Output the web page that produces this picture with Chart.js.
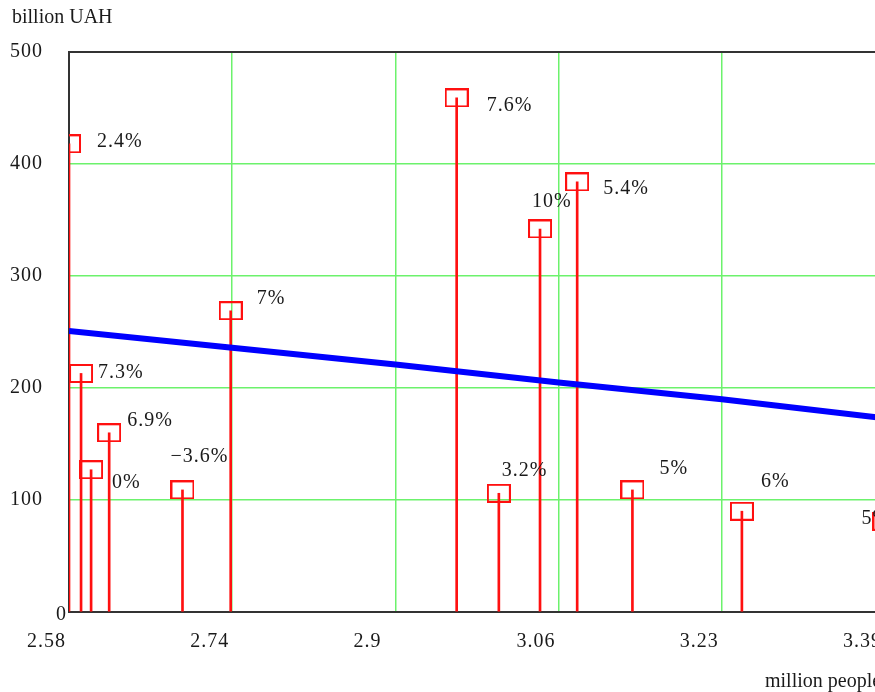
<!DOCTYPE html>
<html>
<head>
<meta charset="utf-8">
<script src="https://cdn.jsdelivr.net/npm/chart.js@4.4.1/dist/chart.umd.min.js"></script>
<style>
  html, body { margin: 0; padding: 0; background: #fff; overflow: hidden; }
  canvas { display: block; }
</style>
</head>
<body>
<canvas id="chart" width="900" height="692"></canvas>
<script>
// population (million people) vs income (billion UAH), stem labels = growth
const population = [2.58, 2.592, 2.602, 2.62, 2.693, 2.741, 2.966, 3.008, 3.049, 3.086, 3.141, 3.25, 3.392];
const income = [418, 213, 127, 160, 109, 269, 459, 106, 342, 384, 109, 90, 81];
const growth = ['2.4%', '7.3%', '0%', '6.9%', '\u22123.6%', '7%', '7.6%', '3.2%', '10%', '5.4%', '5%', '6%', '5%'];

// trend curve
const trendX = [2.58, 2.7425, 2.905, 3.0675, 3.23, 3.3925];
const trendY = [251, 236, 221, 205, 190, 173];

const xTicks = [2.58, 2.7425, 2.905, 3.0675, 3.23, 3.3925];
const xTickLabels = ['2.58', '2.74', '2.9', '3.06', '3.23', '3.39'];

// where each growth label sits relative to its marker (px)
const labelOffsets = [[28, -2], [17, -1], [21, 13], [18, -12], [-12, -33], [26, -12], [30, 8],
  [3, -23], [-8, -27], [26, 7], [27, -21], [19, -29], [-23, -3]];

const FONT = '"Liberation Serif", "Times New Roman", serif';
const GREEN = '#6cf26c';
const RED = '#ff1010';

// hollow rectangle marker
const box = document.createElement('canvas');
box.width = 24;
box.height = 19;
const bctx = box.getContext('2d');
bctx.strokeStyle = RED;
bctx.lineWidth = 2;
bctx.strokeRect(1, 1, 22, 17);

const extras = {
  id: 'extras',
  beforeDraw(chart) {
    // text in the original is spaced out a bit
    chart.ctx.letterSpacing = '1px';
  },
  afterDatasetsDraw(chart) {
    const { ctx, chartArea, scales: { x, y } } = chart;
    ctx.save();
    // top frame
    ctx.strokeStyle = '#333';
    ctx.lineWidth = 2;
    ctx.beginPath();
    ctx.moveTo(chartArea.left - 1, chartArea.top);
    ctx.lineTo(chartArea.right, chartArea.top);
    ctx.stroke();

    ctx.font = '20px ' + FONT;
    ctx.fillStyle = '#1a1a1a';
    ctx.textBaseline = 'middle';
    ctx.textAlign = 'left';
    growth.forEach((t, i) => {
      const px = x.getPixelForValue(population[i]);
      const py = y.getPixelForValue(income[i]);
      ctx.fillText(t, px + labelOffsets[i][0], py + labelOffsets[i][1]);
    });

    // the 0 sits in the corner
    ctx.textAlign = 'right';
    ctx.fillText('0', chartArea.left - 2, y.getPixelForValue(0) + 3);

    // units
    ctx.textAlign = 'left';
    ctx.textBaseline = 'alphabetic';
    ctx.letterSpacing = '0px';
    ctx.fillText('billion UAH', chartArea.left - 57, chartArea.top - 29);
    ctx.fillText('million people', chartArea.right - 120, chartArea.bottom + 75);
    ctx.restore();
  }
};

new Chart(document.getElementById('chart'), {
  type: 'bar',
  data: {
    datasets: [
      {
        type: 'line',
        data: trendX.map((v, i) => ({ x: v, y: trendY[i] })),
        borderColor: '#0000ff',
        borderWidth: 6,
        pointRadius: 0,
        fill: false,
        clip: 0
      },
      {
        type: 'scatter',
        data: population.map((v, i) => ({ x: v, y: income[i] })),
        pointStyle: box,
        pointRadius: 12,
        clip: 0
      },
      {
        type: 'bar',
        data: population.map((v, i) => ({ x: v, y: income[i] })),
        backgroundColor: RED,
        borderWidth: 0,
        barThickness: 2,
        grouped: false
      }
    ]
  },
  options: {
    responsive: false,
    animation: false,
    devicePixelRatio: 1,
    layout: { padding: { left: 10, top: 52, right: 15, bottom: 0 } },
    plugins: { legend: { display: false }, tooltip: { enabled: false } },
    scales: {
      x: {
        type: 'linear',
        min: 2.58,
        max: 3.3925,
        offset: false,
        afterBuildTicks: (scale) => { scale.ticks = xTicks.map(v => ({ value: v })); },
        afterFit: (scale) => { scale.height = 80; scale.paddingLeft = 0; scale.paddingRight = 0; },
        grid: {
          offset: false,
          drawTicks: false,
          color: (c) => (c.tick && c.tick.value === 2.58 ? 'rgba(0,0,0,0)' : GREEN),
          lineWidth: 1.5
        },
        border: { color: '#333', width: 2 },
        ticks: {
          autoSkip: false,
          maxRotation: 0,
          align: 'start',
          labelOffset: -42,
          padding: 18,
          color: '#1a1a1a',
          font: { family: FONT, size: 20 },
          callback: (v, i) => xTickLabels[i]
        }
      },
      y: {
        min: 0,
        max: 500,
        afterFit: (scale) => { scale.width = 59; },
        grid: {
          drawTicks: false,
          color: (c) => (c.tick && c.tick.value === 0 ? 'rgba(0,0,0,0)' : GREEN),
          lineWidth: 1.5
        },
        border: { color: '#333', width: 2 },
        ticks: {
          stepSize: 100,
          crossAlign: 'far',
          color: '#1a1a1a',
          font: { family: FONT, size: 20 },
          callback: (v) => (v === 0 ? '' : v)
        }
      }
    }
  },
  plugins: [extras]
});
</script>
</body>
</html>
